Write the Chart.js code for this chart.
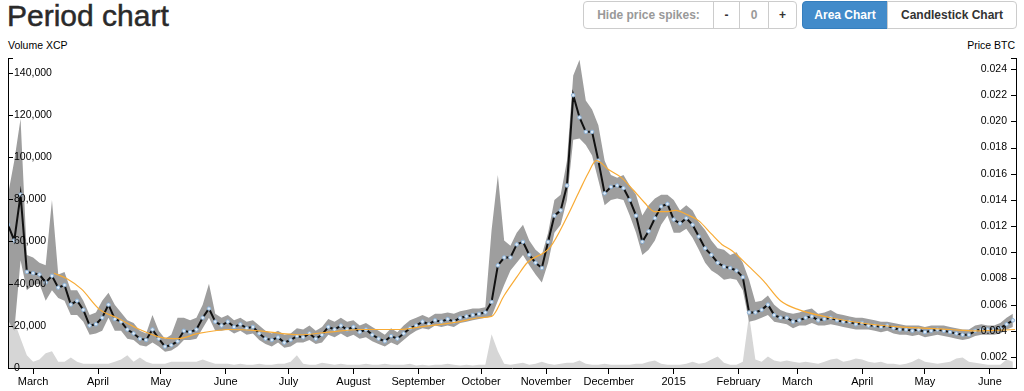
<!DOCTYPE html>
<html>
<head>
<meta charset="utf-8">
<script src="https://cdn.jsdelivr.net/npm/chart.js@4/dist/chart.umd.min.js"></script>
<style>
  body { margin: 0; width: 1024px; height: 391px; overflow: hidden; background: #fff; position: relative;
         font-family: "Liberation Sans", Arial, Helvetica, sans-serif; }
  #title { position: absolute; left: 7px; top: 1px; font-size: 30px; line-height: 30px; color: #2a2a2a;
           -webkit-text-stroke: 0.5px #2a2a2a; }
  .axis-title { position: absolute; top: 39px; font-size: 10.5px; line-height: 12px; color: #000; }
  .btn { position: absolute; top: 1px; height: 28px; box-sizing: border-box; border: 1px solid #ccc;
         background: #fff; font-size: 12px; font-weight: bold; line-height: 26px; text-align: center; color: #333; }
  #chartBox { position: absolute; left: 0; top: 50px; width: 1024px; height: 341px; }
</style>
</head>
<body>
<div id="title">Period chart</div>

<div class="btn" style="left:583px;width:131px;color:#999;border-radius:4px 0 0 4px;">Hide price spikes:</div>
<div class="btn" style="left:713px;width:27px;">-</div>
<div class="btn" style="left:739px;width:30px;color:#999;">0</div>
<div class="btn" style="left:768px;width:29px;border-radius:0 4px 4px 0;">+</div>
<div class="btn" style="left:802px;width:86px;background:#428bca;border-color:#357ebd;color:#fff;border-radius:4px 0 0 4px;">Area Chart</div>
<div class="btn" style="left:887px;width:130px;border-radius:0 4px 4px 0;">Candlestick Chart</div>

<div class="axis-title" style="left:8px;">Volume XCP</div>
<div class="axis-title" style="right:9px;">Price BTC</div>

<div id="chartBox"><canvas id="period" width="1024" height="341"></canvas></div>

<script>
// days counted from 1 March 2014, one sample every 3 days starting 17 Feb 2014
var firstDay = -12;
var stepDays = 3;

// closing price, BTC
var closePrice = [
  0.0121, 0.0109, 0.0144, 0.0085, 0.0084, 0.0083, 0.0077, 0.0082, 0.0073, 0.0075,
  0.0060, 0.0063, 0.0056, 0.0044, 0.0045, 0.0050, 0.0060, 0.0049, 0.0047, 0.0041,
  0.0038, 0.0034, 0.0033, 0.0041, 0.0034, 0.0028, 0.0029, 0.0032, 0.0040, 0.0039,
  0.0041, 0.0050, 0.0057, 0.0047, 0.0044, 0.0047, 0.0043, 0.0045, 0.0042, 0.0043,
  0.0038, 0.0034, 0.0033, 0.0035, 0.0031, 0.0033, 0.0036, 0.0035, 0.0038, 0.0034,
  0.0037, 0.0043, 0.0041, 0.0044, 0.0041, 0.0043, 0.0039, 0.0041, 0.0037, 0.0034,
  0.0032, 0.0036, 0.0034, 0.0038, 0.0042, 0.0044, 0.0047, 0.0045, 0.0048, 0.0047,
  0.0049, 0.0047, 0.0050, 0.0051, 0.0052, 0.0053, 0.0054, 0.0062, 0.0090, 0.0096,
  0.0096, 0.0106, 0.0108, 0.0098, 0.0092, 0.0088, 0.0108, 0.0128, 0.0132, 0.0151,
  0.0220, 0.0203, 0.0192, 0.0192, 0.0170, 0.0145, 0.0150, 0.0151, 0.0149, 0.0140,
  0.0128, 0.0108, 0.0116, 0.0126, 0.0135, 0.0137, 0.0125, 0.0122, 0.0126, 0.0121,
  0.0112, 0.0103, 0.0098, 0.0092, 0.0089, 0.0088, 0.0086, 0.0081, 0.0054, 0.0054,
  0.0056, 0.0060, 0.0052, 0.0050, 0.0050, 0.0047, 0.0048, 0.0050, 0.0051, 0.0048,
  0.0049, 0.0050, 0.0048, 0.0047, 0.0047, 0.0045, 0.0046, 0.0044, 0.0044, 0.0043,
  0.0044, 0.0042, 0.0041, 0.0041, 0.0040, 0.0041, 0.0039, 0.0040, 0.0041, 0.0040,
  0.0039, 0.0038, 0.0037, 0.0037, 0.0040, 0.0041, 0.0041, 0.0041, 0.0042, 0.0045,
  0.0048
];

var highPrice = [
  0.0144, 0.0170, 0.0202, 0.0098, 0.0096, 0.0092, 0.0090, 0.0140, 0.0083, 0.0085,
  0.0071, 0.0071, 0.0063, 0.0052, 0.0054, 0.0063, 0.0069, 0.0060, 0.0054, 0.0048,
  0.0046, 0.0040, 0.0038, 0.0052, 0.0040, 0.0034, 0.0037, 0.0050, 0.0050, 0.0048,
  0.0050, 0.0060, 0.0076, 0.0053, 0.0050, 0.0052, 0.0048, 0.0050, 0.0047, 0.0048,
  0.0044, 0.0040, 0.0038, 0.0040, 0.0037, 0.0038, 0.0042, 0.0041, 0.0044, 0.0040,
  0.0043, 0.0049, 0.0047, 0.0050, 0.0047, 0.0048, 0.0044, 0.0046, 0.0043, 0.0040,
  0.0037, 0.0042, 0.0039, 0.0044, 0.0048, 0.0050, 0.0052, 0.0050, 0.0053, 0.0053,
  0.0054, 0.0053, 0.0055, 0.0056, 0.0057, 0.0057, 0.0058, 0.0117, 0.0159, 0.0109,
  0.0105, 0.0115, 0.0121, 0.0109, 0.0102, 0.0098, 0.0115, 0.0140, 0.0144, 0.0170,
  0.0235, 0.0247, 0.0216, 0.0209, 0.0197, 0.0170, 0.0159, 0.0157, 0.0159, 0.0151,
  0.0144, 0.0128, 0.0136, 0.0141, 0.0144, 0.0144, 0.0140, 0.0132, 0.0136, 0.0132,
  0.0123, 0.0117, 0.0109, 0.0103, 0.0102, 0.0098, 0.0100, 0.0092, 0.0079, 0.0062,
  0.0063, 0.0067, 0.0060, 0.0056, 0.0054, 0.0053, 0.0054, 0.0056, 0.0057, 0.0053,
  0.0054, 0.0056, 0.0053, 0.0052, 0.0051, 0.0050, 0.0050, 0.0049, 0.0048, 0.0047,
  0.0047, 0.0046, 0.0045, 0.0044, 0.0044, 0.0044, 0.0043, 0.0044, 0.0044, 0.0044,
  0.0043, 0.0042, 0.0041, 0.0041, 0.0044, 0.0045, 0.0044, 0.0044, 0.0046, 0.0050,
  0.0053
];

var lowPrice = [
  0.0048, 0.0040, 0.0094, 0.0071, 0.0075, 0.0076, 0.0063, 0.0071, 0.0065, 0.0063,
  0.0052, 0.0052, 0.0047, 0.0037, 0.0038, 0.0040, 0.0050, 0.0040, 0.0040, 0.0034,
  0.0033, 0.0029, 0.0028, 0.0031, 0.0028, 0.0024, 0.0025, 0.0028, 0.0033, 0.0033,
  0.0034, 0.0042, 0.0050, 0.0040, 0.0040, 0.0041, 0.0038, 0.0040, 0.0037, 0.0038,
  0.0033, 0.0030, 0.0028, 0.0031, 0.0027, 0.0028, 0.0031, 0.0031, 0.0033, 0.0030,
  0.0031, 0.0037, 0.0035, 0.0038, 0.0035, 0.0037, 0.0034, 0.0035, 0.0032, 0.0030,
  0.0028, 0.0031, 0.0029, 0.0033, 0.0037, 0.0040, 0.0042, 0.0041, 0.0044, 0.0043,
  0.0044, 0.0043, 0.0046, 0.0047, 0.0048, 0.0049, 0.0050, 0.0051, 0.0063, 0.0075,
  0.0086, 0.0092, 0.0098, 0.0090, 0.0083, 0.0077, 0.0092, 0.0115, 0.0121, 0.0140,
  0.0186, 0.0187, 0.0182, 0.0174, 0.0155, 0.0136, 0.0140, 0.0141, 0.0140, 0.0128,
  0.0115, 0.0098, 0.0102, 0.0109, 0.0121, 0.0128, 0.0115, 0.0115, 0.0118, 0.0111,
  0.0102, 0.0092, 0.0086, 0.0083, 0.0079, 0.0080, 0.0079, 0.0071, 0.0047, 0.0048,
  0.0050, 0.0052, 0.0047, 0.0046, 0.0045, 0.0042, 0.0044, 0.0044, 0.0046, 0.0044,
  0.0044, 0.0045, 0.0044, 0.0043, 0.0042, 0.0041, 0.0041, 0.0041, 0.0040, 0.0039,
  0.0040, 0.0038, 0.0037, 0.0037, 0.0036, 0.0037, 0.0035, 0.0036, 0.0037, 0.0036,
  0.0035, 0.0034, 0.0033, 0.0034, 0.0036, 0.0037, 0.0037, 0.0037, 0.0038, 0.0041,
  0.0043
];

// traded volume, XCP
var volume = [
  30000, 22000, 14000, 6000, 3000, 4000, 7000, 8000, 3000, 3000,
  5000, 3000, 2000, 2000, 2000, 2000, 2000, 3000, 4000, 6000,
  3000, 5000, 3000, 2000, 2000, 2000, 3000, 3000, 3000, 3000,
  3000, 4000, 3000, 2000, 2000, 2000, 1500, 2000, 1500, 1500,
  2000, 1500, 1500, 2000, 2000, 3000, 6000, 2000, 1500, 1500,
  2500, 2000, 1500, 2000, 1500, 1500, 1500, 2000, 1500, 1500,
  2000, 1500, 1500, 1500, 2000, 1200, 1500, 1200, 1500, 1500,
  2000, 1500, 1200, 1500, 1200, 1500, 1500, 16000, 8000, 2000,
  1500, 2000, 2500, 1500, 2000, 3000, 2000, 1500, 2000, 2500,
  2500, 3500, 2000, 1500, 1500, 2000, 1500, 1500, 1500, 1500,
  2000, 2000, 3000, 3500, 2000, 1500, 1500, 1500, 2000, 3000,
  2000, 2500, 4000, 5500, 2500, 1500, 1500, 3000, 25000, 4000,
  3000, 5500, 3500, 3000, 3500, 3000, 2500, 3000, 2500, 2000,
  3000, 4000, 4500, 3000, 3500, 4500, 4000, 3000, 2500, 3000,
  2000, 2000, 1500, 2000, 3000, 4500, 3000, 2500, 2000, 2500,
  3000, 4500, 5000, 3000, 2500, 2000, 1500, 1500, 1500, 4000,
  3000
];

// moving average (orange line)
var maDays = [10, 16, 23, 32, 40, 51, 61, 69, 79, 94, 108, 127, 141, 156, 175, 185, 204, 213, 219, 225,
  231, 236, 247, 255, 261, 265, 269, 275, 281, 287, 292, 297, 302, 307, 312, 318, 324, 329, 334, 342,
  349, 357, 366, 381, 400, 414, 438, 450, 469];
var maPrice = [0.0084, 0.0080, 0.0072, 0.0056, 0.0050, 0.0041, 0.0035, 0.0034, 0.0038, 0.0041,
  0.0040, 0.0037, 0.0039, 0.0041, 0.0041, 0.0043, 0.0047, 0.0050, 0.0051, 0.0067,
  0.0081, 0.0092, 0.0104, 0.0127, 0.0147, 0.0160, 0.0170, 0.0163, 0.0157, 0.0147,
  0.0138, 0.0131, 0.0131, 0.0132, 0.0129, 0.0124, 0.0114, 0.0106, 0.0101, 0.0089,
  0.0078, 0.0063, 0.0056, 0.0050, 0.0045, 0.0043, 0.0041, 0.0040, 0.0041];

// axis ticks
var monthDays = [0, 31, 61, 92, 122, 153, 184, 214, 245, 275, 306, 337, 365, 396, 426, 457];
var monthLabels = ["March", "April", "May", "June", "July", "August", "September", "October",
  "November", "December", "2015", "February", "March", "April", "May", "June"];
var volumeTicks = [0, 20000, 40000, 60000, 80000, 100000, 120000, 140000];
var priceTicks = [0.002, 0.004, 0.006, 0.008, 0.010, 0.012, 0.014, 0.016, 0.018, 0.020, 0.022, 0.024];

function points(values) {
  var out = [];
  for (var i = 0; i < values.length; i++) {
    out.push({ x: firstDay + i * stepDays, y: values[i] });
  }
  return out;
}

var maPoints = [];
for (var i = 0; i < maDays.length; i++) {
  maPoints.push({ x: maDays[i], y: maPrice[i] });
}

// small tick marks drawn on the inner side of the two vertical axes
var innerTicks = {
  id: 'innerTicks',
  afterDraw: function(chart) {
    var ctx = chart.ctx;
    var vol = chart.scales.yVol;
    var price = chart.scales.yPrice;
    var top = Math.round(chart.chartArea.top) + 0.5;
    ctx.save();
    ctx.strokeStyle = '#000';
    ctx.lineWidth = 1;
    ctx.beginPath();
    vol.ticks.forEach(function(t) {
      var y = Math.round(vol.getPixelForValue(t.value)) + 0.5;
      ctx.moveTo(vol.right, y);
      ctx.lineTo(vol.right + 5, y);
    });
    price.ticks.forEach(function(t) {
      var y = Math.round(price.getPixelForValue(t.value)) + 0.5;
      ctx.moveTo(price.left, y);
      ctx.lineTo(price.left - 5, y);
    });
    ctx.moveTo(vol.right, top);
    ctx.lineTo(vol.right + 5, top);
    ctx.moveTo(price.left, top);
    ctx.lineTo(price.left - 5, top);
    ctx.stroke();
    ctx.restore();
  }
};

function noWidth(scale) {
  scale.width = 0;
  scale.paddingTop = 0;
  scale.paddingBottom = 0;
}

Chart.defaults.font.family = "'Liberation Sans', Arial, Helvetica, sans-serif";
Chart.defaults.color = '#000';

new Chart(document.getElementById('period'), {
  type: 'line',
  data: {
    datasets: [
      {
        label: 'Volume',
        data: points(volume),
        yAxisID: 'yVol',
        fill: 'origin',
        backgroundColor: '#d6d6d6',
        borderWidth: 0,
        pointRadius: 0,
        order: 5
      },
      {
        label: 'High',
        data: points(highPrice),
        yAxisID: 'yPrice',
        fill: '+1',
        backgroundColor: '#9e9e9e',
        borderWidth: 0,
        pointRadius: 0,
        order: 4
      },
      {
        label: 'Low',
        data: points(lowPrice),
        yAxisID: 'yPrice',
        fill: false,
        borderWidth: 0,
        pointRadius: 0,
        order: 4
      },
      {
        label: 'Close',
        data: points(closePrice),
        yAxisID: 'yPrice',
        fill: false,
        borderColor: '#111',
        borderWidth: 2,
        pointRadius: 1.8,
        pointBackgroundColor: '#dde9f5',
        pointBorderColor: '#8db2d6',
        pointBorderWidth: 1,
        order: 2
      },
      {
        label: 'Average',
        data: maPoints,
        yAxisID: 'yPrice',
        fill: false,
        borderColor: '#f8ab35',
        borderWidth: 1.2,
        pointRadius: 0,
        cubicInterpolationMode: 'monotone',
        order: 1
      }
    ]
  },
  options: {
    responsive: false,
    animation: false,
    devicePixelRatio: 1,
    layout: { padding: { left: 8, right: 8, top: 8, bottom: 1.8 } },
    plugins: {
      legend: { display: false },
      tooltip: { enabled: false }
    },
    scales: {
      x: {
        type: 'linear',
        position: 'bottom',
        min: -12,
        max: 469.5,
        afterBuildTicks: function(scale) {
          scale.ticks = monthDays.map(function(d) { return { value: d }; });
        },
        ticks: {
          autoSkip: false,
          maxRotation: 0,
          padding: 1,
          font: { size: 11 },
          callback: function(value, index) { return monthLabels[index]; }
        },
        grid: { drawOnChartArea: false, drawTicks: true, tickLength: 6, color: '#000' },
        border: { color: '#000', z: 1 }
      },
      yVol: {
        type: 'linear',
        position: 'left',
        min: 0,
        max: 147000,
        afterBuildTicks: function(scale) {
          scale.ticks = volumeTicks.map(function(v) { return { value: v }; });
        },
        afterFit: noWidth,
        ticks: {
          mirror: true,
          padding: 6,
          z: 1,
          font: { size: 10.5 },
          callback: function(value) { return value.toLocaleString('en-US'); }
        },
        grid: { display: false },
        border: { color: '#000', z: 1 }
      },
      yPrice: {
        type: 'linear',
        position: 'right',
        min: 0.00116,
        max: 0.02484,
        afterBuildTicks: function(scale) {
          scale.ticks = priceTicks.map(function(v) { return { value: v }; });
        },
        afterFit: noWidth,
        ticks: {
          mirror: true,
          padding: -9,
          z: 1,
          font: { size: 10.5 },
          callback: function(value) { return value.toFixed(3); }
        },
        grid: { display: false },
        border: { color: '#000', z: 1 }
      }
    }
  },
  plugins: [innerTicks]
});
</script>
</body>
</html>
